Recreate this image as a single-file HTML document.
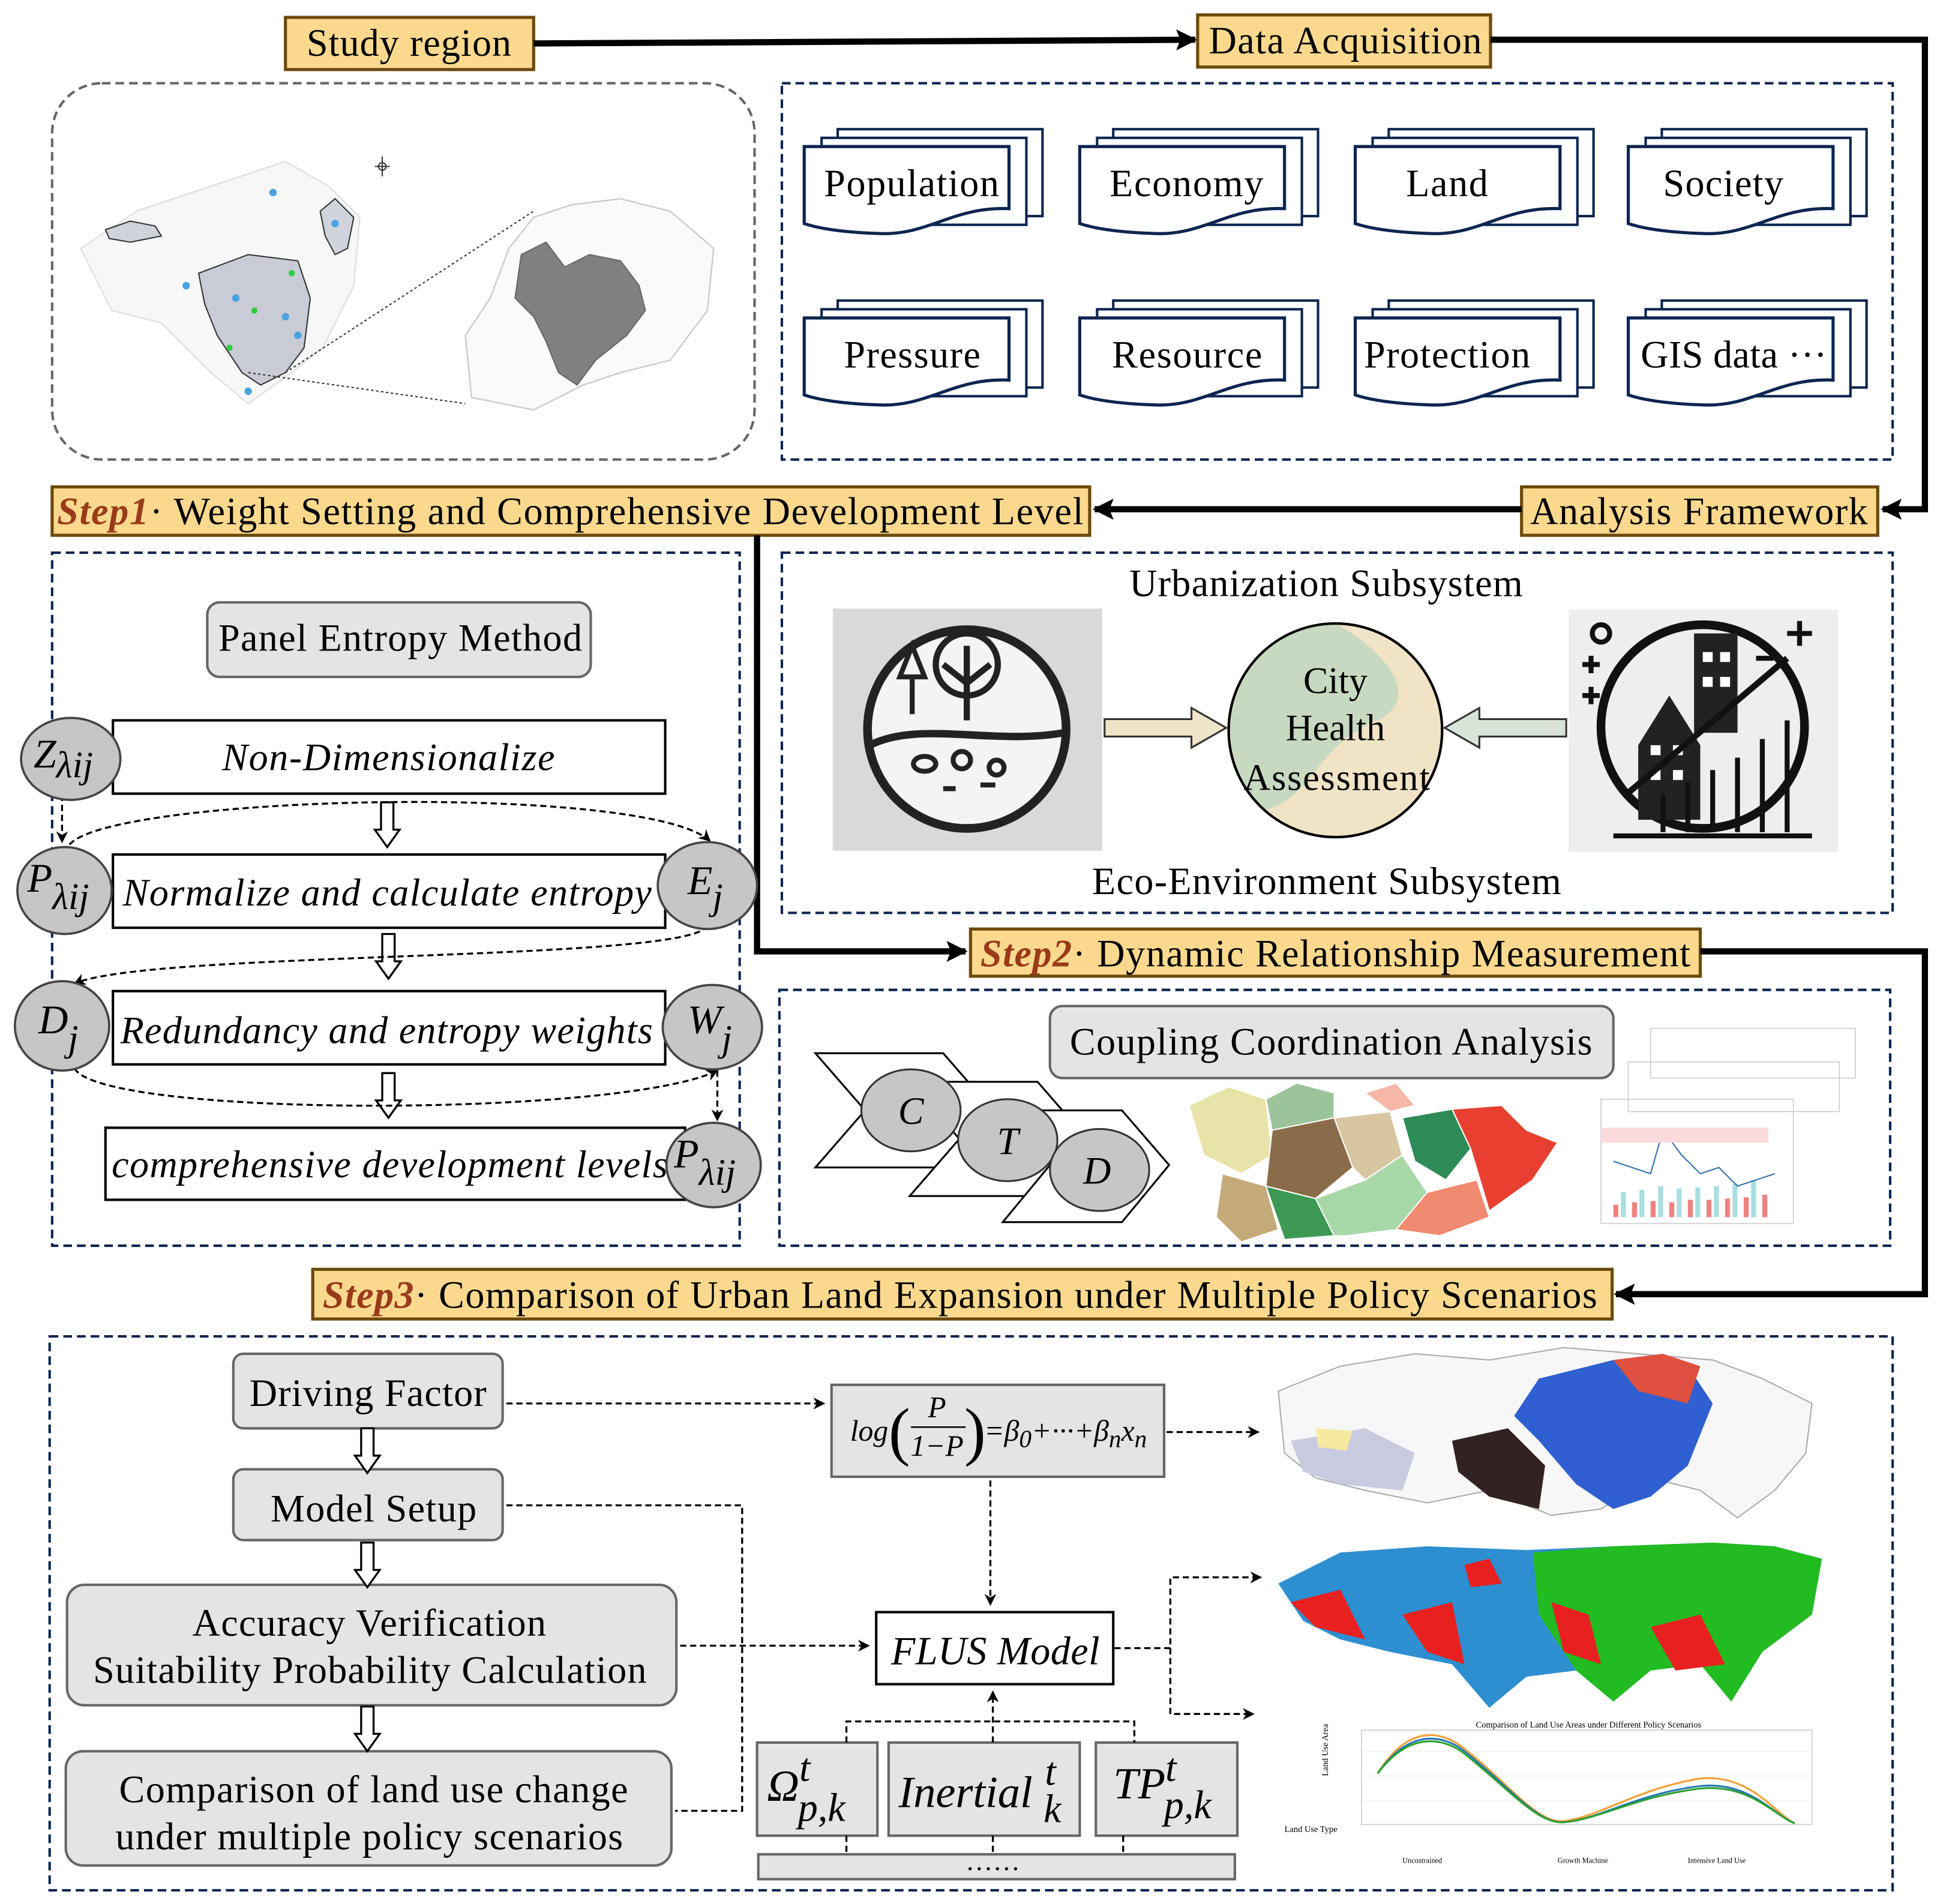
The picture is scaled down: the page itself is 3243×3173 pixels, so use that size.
<!DOCTYPE html>
<html><head><meta charset="utf-8"><style>
html,body{margin:0;padding:0;background:#fff;}
svg{display:block;}
text{font-family:"Liberation Serif",serif;fill:#000;}
</style></head><body>
<svg width="3243" height="3173" viewBox="0 0 1568 1533" preserveAspectRatio="none" xmlns="http://www.w3.org/2000/svg">
<defs>
<marker id="ah" viewBox="0 0 10 10" refX="9" refY="5" markerWidth="6" markerHeight="6" orient="auto-start-reverse"><path d="M0,0 L10,5 L0,10 L3,5 Z" fill="#000"/></marker>
<marker id="big" viewBox="0 0 10 10" refX="9" refY="5" markerWidth="3.4" markerHeight="3.4" orient="auto"><path d="M0,0 L10,5 L0,10 L2,5 Z" fill="#000"/></marker>
<g id="doc">
<rect x="27" y="-14" width="165" height="70" fill="#fff" stroke="#0d2550" stroke-width="2"/>
<rect x="14" y="-7" width="165" height="70" fill="#fff" stroke="#0d2550" stroke-width="2"/>
<path d="M0,0 H165 V50 C120,48 100,72 60,70 C30,69 12,66 0,62 Z" fill="#fff" stroke="#0d2550" stroke-width="2.5"/>
</g>
<g id="harrow"><path d="M-5,0 H5 V22 H10 L0,36 L-10,22 H-5 Z" fill="#fff" stroke="#000" stroke-width="1.6"/></g>
</defs>

<rect x="230" y="14" width="200" height="42" fill="#fad98e" stroke="#6b4a0c" stroke-width="2.5"/>
<text x="247" y="45" font-size="31" textLength="165">Study region</text>
<line x1="430" y1="35" x2="963" y2="32" stroke="#000" stroke-width="5" marker-end="url(#big)"/>
<rect x="965" y="12" width="236" height="42" fill="#fad98e" stroke="#6b4a0c" stroke-width="2.5"/>
<text x="974" y="43" font-size="31" textLength="220">Data Acquisition</text>
<polyline points="1201,32 1551,32 1551,410 1517,410" fill="none" stroke="#000" stroke-width="5" marker-end="url(#big)"/>

<rect x="42" y="67" width="566" height="303" rx="40" fill="none" stroke="#666" stroke-width="2" stroke-dasharray="7,4"/>
<g stroke="#ddd" fill="#f7f7f7" stroke-width="1">
<path d="M65,200 L110,170 L170,150 L230,130 L265,150 L290,175 L285,230 L260,280 L235,300 L200,325 L170,300 L130,260 L90,250 Z"/>
</g>
<g fill="#cfd3dc" stroke="#333" stroke-width="1">
<path d="M85,185 L105,178 L125,182 L130,190 L105,195 L88,192 Z"/>
<path d="M258,170 L270,160 L285,175 L280,200 L270,205 L262,190 Z"/>
<path d="M160,220 L200,205 L240,210 L250,240 L245,280 L230,300 L210,310 L195,300 L175,270 L165,245 Z" fill="#c9ccd6"/>
</g>
<g fill="#4aa3df"><circle cx="150" cy="230" r="3"/><circle cx="190" cy="240" r="3"/><circle cx="230" cy="255" r="3"/><circle cx="240" cy="270" r="3"/><circle cx="200" cy="315" r="3"/><circle cx="270" cy="180" r="3"/><circle cx="220" cy="155" r="3"/></g>
<g fill="#2ecc40"><circle cx="205" cy="250" r="2.5"/><circle cx="185" cy="280" r="2.5"/><circle cx="235" cy="220" r="2.5"/></g>
<path d="M200,300 L375,325" stroke="#333" stroke-width="1" stroke-dasharray="2,2"/>
<path d="M230,300 L430,170" stroke="#333" stroke-width="1" stroke-dasharray="2,2"/>
<path d="M380,320 L375,270 L395,240 L410,200 L430,175 L460,165 L500,160 L540,170 L575,200 L570,250 L540,290 L500,300 L470,310 L430,330 Z" fill="#fafafa" stroke="#ccc" stroke-width="1.2"/>
<path d="M420,205 L440,195 L455,215 L475,205 L500,210 L515,230 L520,250 L505,270 L480,290 L465,310 L450,300 L440,275 L430,255 L415,240 Z" fill="#808080" stroke="#666" stroke-width="1"/>
<g transform="translate(308,134)"><line x1="0" y1="-8" x2="0" y2="8" stroke="#333"/><line x1="-6" y1="0" x2="6" y2="0" stroke="#333"/><circle r="3" fill="none" stroke="#333"/></g>

<rect x="630" y="67" width="895" height="303" fill="none" stroke="#0d2550" stroke-width="2" stroke-dasharray="7,4"/>
<use href="#doc" x="648" y="118"/><use href="#doc" x="870" y="118"/><use href="#doc" x="1092" y="118"/><use href="#doc" x="1312" y="118"/>
<use href="#doc" x="648" y="256"/><use href="#doc" x="870" y="256"/><use href="#doc" x="1092" y="256"/><use href="#doc" x="1312" y="256"/>
<g font-size="31">
<text x="664" y="158" textLength="141">Population</text>
<text x="894" y="158" textLength="124">Economy</text>
<text x="1133" y="158" textLength="66">Land</text>
<text x="1340" y="158" textLength="97">Society</text>
<text x="680" y="296" textLength="110">Pressure</text>
<text x="896" y="296" textLength="121">Resource</text>
<text x="1099" y="296" textLength="134">Protection</text>
<text x="1322" y="296" textLength="150">GIS data ···</text>
</g>

<rect x="42" y="392" width="836" height="39" fill="#fad98e" stroke="#6b4a0c" stroke-width="2.5"/>
<text x="46" y="422" font-size="31" textLength="827"><tspan font-style="italic" font-weight="bold" style="fill:#9a3a1a">Step1</tspan>· Weight Setting and  Comprehensive Development Level</text>
<rect x="1226" y="392" width="287" height="39" fill="#fad98e" stroke="#6b4a0c" stroke-width="2.5"/>
<text x="1233" y="422" font-size="31" textLength="272">Analysis Framework</text>
<line x1="1226" y1="410" x2="882" y2="410" stroke="#000" stroke-width="5" marker-end="url(#big)"/>
<polyline points="610,431 610,766 778,766" fill="none" stroke="#000" stroke-width="5" marker-end="url(#big)"/>

<rect x="42" y="445" width="554" height="558" fill="none" stroke="#0d2550" stroke-width="2" stroke-dasharray="7,4"/>
<rect x="167" y="485" width="309" height="60" rx="10" fill="#e4e4e4" stroke="#666" stroke-width="2"/>
<text x="176" y="524" font-size="31" textLength="293">Panel Entropy Method</text>
<g fill="#fff" stroke="#000" stroke-width="2">
<rect x="91" y="580" width="445" height="59"/>
<rect x="91" y="688" width="445" height="59"/>
<rect x="91" y="798" width="445" height="59"/>
<rect x="85" y="908" width="467" height="58"/>
</g>
<g font-size="31" font-style="italic">
<text x="179" y="620" textLength="268">Non-Dimensionalize</text>
<text x="99" y="729" textLength="426">Normalize and calculate entropy</text>
<text x="97" y="840" textLength="429">Redundancy and entropy weights</text>
<text x="90" y="948" textLength="448">comprehensive development levels</text>
</g>
<use href="#harrow" x="312" y="646"/><use href="#harrow" x="313" y="752"/><use href="#harrow" x="313" y="864"/>
<g fill="none" stroke="#000" stroke-width="1.6" stroke-dasharray="5,3">
<path d="M50,640 V678" marker-end="url(#ah)"/>
<path d="M56,680 C90,640 520,630 572,677" marker-end="url(#ah)"/>
<path d="M570,745 C560,775 120,765 60,792" marker-end="url(#ah)"/>
<path d="M60,860 C80,900 500,900 578,862" marker-end="url(#ah)"/>
<path d="M578,862 V902" marker-end="url(#ah)"/>
</g>
<g fill="#c6c6c6" stroke="#444" stroke-width="1.8">
<ellipse cx="57" cy="611" rx="40" ry="33"/>
<ellipse cx="52" cy="717" rx="38" ry="35"/>
<ellipse cx="570" cy="713" rx="40" ry="35"/>
<ellipse cx="50" cy="826" rx="38" ry="36"/>
<ellipse cx="574" cy="827" rx="40" ry="34"/>
<ellipse cx="575" cy="938" rx="38" ry="34"/>
</g>
<g font-size="33" font-style="italic">
<text x="27" y="618">Z<tspan font-size="30" dy="8">λij</tspan></text>
<text x="22" y="718">P<tspan font-size="30" dy="14">λij</tspan></text>
<text x="554" y="720">E<tspan font-size="30" dy="12">j</tspan></text>
<text x="31" y="832">D<tspan font-size="30" dy="14">j</tspan></text>
<text x="554" y="832">W<tspan font-size="30" dy="14">j</tspan></text>
<text x="543" y="940">P<tspan font-size="30" dy="14">λij</tspan></text>
</g>

<rect x="630" y="445" width="895" height="290" fill="none" stroke="#0d2550" stroke-width="2" stroke-dasharray="7,4"/>
<text x="910" y="480" font-size="31" textLength="317">Urbanization Subsystem</text>
<text x="880" y="720" font-size="31" textLength="378">Eco-Environment Subsystem</text>
<rect x="671" y="490" width="217" height="195" fill="#d9d9d9"/>
<circle cx="779" cy="587" r="80" fill="#f4f4f4" stroke="#222" stroke-width="7"/>
<path d="M701,600 C740,580 800,600 857,590" fill="none" stroke="#222" stroke-width="6"/>
<path d="M779,520 v60 M760,535 l19,15 19,-15" stroke="#222" stroke-width="5" fill="none"/>
<circle cx="779" cy="535" r="25" fill="none" stroke="#222" stroke-width="5"/>
<path d="M725,545 l10,-25 10,25 z M735,545 v30" stroke="#222" stroke-width="4" fill="none"/>
<g fill="none" stroke="#222" stroke-width="4"><ellipse cx="745" cy="615" rx="9" ry="6"/><circle cx="775" cy="612" r="7"/><circle cx="803" cy="618" r="6"/><path d="M760,635 h10 M790,632 h12"/></g>
<rect x="1264" y="491" width="217" height="195" fill="#eeeeee"/>
<circle cx="1372" cy="585" r="82" fill="none" stroke="#111" stroke-width="7"/>
<path d="M1320,600 l25,-40 25,40 v60 h-50 z" fill="#222"/>
<rect x="1365" y="510" width="35" height="80" fill="#222"/>
<g fill="#fff"><rect x="1330" y="600" width="8" height="8"/><rect x="1348" y="600" width="8" height="8"/><rect x="1330" y="620" width="8" height="8"/><rect x="1348" y="620" width="8" height="8"/><rect x="1372" y="525" width="8" height="8"/><rect x="1386" y="525" width="8" height="8"/><rect x="1372" y="545" width="8" height="8"/><rect x="1386" y="545" width="8" height="8"/></g>
<g fill="none" stroke="#111" stroke-width="4"><path d="M1340,670 v-30 M1360,670 v-40 M1380,670 v-50 M1400,670 v-60 M1420,670 v-75 M1440,670 v-90"/><path d="M1310,640 L1440,530" stroke-width="5"/><path d="M1300,673 H1460"/><circle cx="1290" cy="510" r="7"/><path d="M1440,510 h20 M1450,500 v20 M1275,535 h14 M1282,528 v14 M1275,560 h14 M1282,553 v14 M1415,530 h14"/></g>
<circle cx="1076" cy="588" r="86" fill="#f1e3c6" stroke="#000" stroke-width="2"/>
<path d="M1076,502 A86,86 0 0 0 1020,652 C1060,640 1060,600 1110,580 C1150,560 1110,520 1076,502 Z" fill="#c7d9c0"/>
<circle cx="1076" cy="588" r="86" fill="none" stroke="#000" stroke-width="2"/>
<text x="1076" y="558" font-size="30" text-anchor="middle">City</text>
<text x="1076" y="596" font-size="30" text-anchor="middle">Health</text>
<text x="1002" y="636" font-size="30" textLength="150">Assessment</text>
<path d="M890,579 H960 V570 L988,586 L960,602 V593 H890 Z" fill="#efe4c8" stroke="#333" stroke-width="1.5"/>
<path d="M1262,579 H1192 V570 L1164,586 L1192,602 V593 H1262 Z" fill="#d8e4d8" stroke="#333" stroke-width="1.5"/>

<rect x="782" y="748" width="588" height="38" fill="#fad98e" stroke="#6b4a0c" stroke-width="2.5"/>
<text x="790" y="778" font-size="31" textLength="572"><tspan font-style="italic" font-weight="bold" style="fill:#9a3a1a">Step2</tspan>· Dynamic Relationship Measurement</text>
<polyline points="1370,766 1551,766 1551,1042 1302,1042" fill="none" stroke="#000" stroke-width="5" marker-end="url(#big)"/>
<rect x="628" y="797" width="895" height="206" fill="none" stroke="#0d2550" stroke-width="2" stroke-dasharray="7,4"/>
<rect x="846" y="810" width="454" height="58" rx="10" fill="#e4e4e4" stroke="#666" stroke-width="2"/>
<text x="862" y="849" font-size="31" textLength="421">Coupling Coordination Analysis</text>
<g fill="#fff" stroke="#000" stroke-width="1.5">
<path d="M657,848 H760 L800,894 L760,940 H657 L697,894 Z"/>
<path d="M733,871 H836 L876,917 L836,963 H733 L773,917 Z"/>
<path d="M808,894 H904 L942,938 L904,984 H808 L846,938 Z"/>
</g>
<g fill="#c6c6c6" stroke="#333" stroke-width="1.5"><ellipse cx="734" cy="894" rx="40" ry="33"/><ellipse cx="812" cy="918" rx="40" ry="33"/><ellipse cx="886" cy="942" rx="40" ry="33"/></g>
<g font-size="31" font-style="italic" text-anchor="middle"><text x="734" y="905">C</text><text x="812" y="929">T</text><text x="884" y="953">D</text></g>
<g stroke="#fff" stroke-width="1">
<path d="M958,890 L990,875 L1020,885 L1025,930 L1000,945 L970,930 Z" fill="#e8e3a8"/>
<path d="M1020,885 L1045,872 L1075,880 L1075,905 L1040,920 L1025,910 Z" fill="#9cc49a"/>
<path d="M1025,910 L1075,900 L1090,940 L1060,965 L1020,955 Z" fill="#8a6b4a"/>
<path d="M985,945 L1020,955 L1030,990 L1000,1000 L980,980 Z" fill="#c4aa78"/>
<path d="M1020,955 L1060,965 L1075,995 L1035,998 Z" fill="#3d9a55"/>
<path d="M1075,900 L1120,895 L1130,930 L1100,950 L1090,940 Z" fill="#d7c6a0"/>
<path d="M1100,950 L1130,930 L1150,960 L1125,990 L1085,995 L1075,995 L1060,965 Z" fill="#a9d8a8"/>
<path d="M1100,880 L1125,872 L1140,890 L1120,895 Z" fill="#f5b7a8"/>
<path d="M1130,900 L1170,893 L1185,925 L1165,950 L1140,935 Z" fill="#2e8b57"/>
<path d="M1150,960 L1190,950 L1200,980 L1160,995 L1125,990 Z" fill="#f08a70"/>
<path d="M1170,893 L1210,890 L1230,910 L1255,920 L1235,950 L1200,975 L1185,925 Z" fill="#e84030"/>
</g>
<g stroke="#ccc" stroke-width="0.8" fill="none">
<rect x="1330" y="828" width="165" height="40"/><rect x="1312" y="855" width="170" height="40"/><rect x="1290" y="885" width="155" height="100"/>
</g>
<g fill="#f08080"><rect x="1300" y="970" width="4" height="10"/><rect x="1315" y="968" width="4" height="12"/><rect x="1330" y="967" width="4" height="13"/><rect x="1345" y="968" width="4" height="12"/><rect x="1360" y="966" width="4" height="14"/><rect x="1375" y="966" width="4" height="14"/><rect x="1390" y="965" width="4" height="15"/><rect x="1405" y="964" width="4" height="16"/><rect x="1420" y="962" width="4" height="18"/></g>
<g fill="#a8dfe0"><rect x="1306" y="960" width="4" height="20"/><rect x="1321" y="958" width="4" height="22"/><rect x="1336" y="955" width="4" height="25"/><rect x="1351" y="957" width="4" height="23"/><rect x="1366" y="956" width="4" height="24"/><rect x="1381" y="955" width="4" height="25"/><rect x="1396" y="953" width="4" height="27"/><rect x="1411" y="950" width="4" height="30"/></g>
<polyline points="1300,935 1315,940 1330,945 1340,910 1355,930 1370,945 1385,940 1400,955 1415,950 1430,945" fill="none" stroke="#3070b0" stroke-width="1"/>
<rect x="1290" y="908" width="135" height="12" fill="#fbdada"/>

<rect x="252" y="1022" width="1047" height="40" fill="#fad98e" stroke="#6b4a0c" stroke-width="2.5"/>
<text x="260" y="1053" font-size="31" textLength="1027"><tspan font-style="italic" font-weight="bold" style="fill:#9a3a1a">Step3</tspan>· Comparison of Urban Land Expansion under Multiple Policy Scenarios</text>
<rect x="40" y="1076" width="1485" height="446" fill="none" stroke="#0d2550" stroke-width="2" stroke-dasharray="7,4"/>
<g fill="#e4e4e4" stroke="#666" stroke-width="2">
<rect x="188" y="1090" width="217" height="60" rx="8"/>
<rect x="188" y="1183" width="217" height="57" rx="8"/>
<rect x="54" y="1276" width="491" height="97" rx="14"/>
<rect x="53" y="1410" width="488" height="92" rx="14"/>
<rect x="670" y="1115" width="268" height="74"/>
<rect x="610" y="1403" width="97" height="75"/>
<rect x="716" y="1403" width="154" height="75"/>
<rect x="883" y="1403" width="114" height="75"/>
<rect x="611" y="1493" width="384" height="20"/>
</g>
<g font-size="31">
<text x="201" y="1132" textLength="191">Driving Factor</text>
<text x="218" y="1225" textLength="166">Model Setup</text>
<text x="155" y="1317" textLength="285">Accuracy Verification</text>
<text x="75" y="1355" textLength="446">Suitability Probability Calculation</text>
<text x="96" y="1451" textLength="410">Comparison of land use change</text>
<text x="93" y="1489" textLength="409">under multiple policy scenarios</text>
</g>
<use href="#harrow" x="296" y="1150"/><use href="#harrow" x="296" y="1242"/><use href="#harrow" x="296" y="1374"/>
<text x="685" y="1160" font-size="24" font-style="italic">log</text>
<text x="716" y="1170" font-size="52" font-weight="lighter">(</text>
<text x="755" y="1141" font-size="24" font-style="italic" text-anchor="middle">P</text>
<line x1="734" y1="1149" x2="778" y2="1149" stroke="#000" stroke-width="1.2"/>
<text x="755" y="1172" font-size="24" font-style="italic" text-anchor="middle">1−P</text>
<text x="777" y="1170" font-size="52">)</text>
<text x="793" y="1160" font-size="24" font-style="italic">=β<tspan font-size="20" dy="5">0</tspan><tspan dy="-5">+···+β</tspan><tspan font-size="20" dy="5">n</tspan><tspan dy="-5">x</tspan><tspan font-size="20" dy="5">n</tspan></text>
<rect x="706" y="1298" width="191" height="58" fill="#fff" stroke="#000" stroke-width="2"/>
<text x="718" y="1340" font-size="32" font-style="italic" textLength="168">FLUS Model</text>
<g font-size="36" font-style="italic">
<text x="618" y="1450">Ω<tspan font-size="32" dy="-16">t</tspan><tspan font-size="32" dx="-10" dy="32">p,k</tspan></text>
<text x="724" y="1455">Inertial<tspan font-size="32" dx="10" dy="-18">t</tspan><tspan font-size="32" dx="-10" dy="30">k</tspan></text>
<text x="897" y="1448">TP<tspan font-size="32" dy="-14">t</tspan><tspan font-size="32" dx="-10" dy="30">p,k</tspan></text>
</g>
<text x="800" y="1512" font-size="22" text-anchor="middle">······</text>
<g fill="none" stroke="#000" stroke-width="1.6" stroke-dasharray="5,3">
<path d="M408,1130 H664" marker-end="url(#ah)"/>
<path d="M940,1153 H1014" marker-end="url(#ah)"/>
<path d="M798,1192 V1292" marker-end="url(#ah)"/>
<path d="M548,1325 H700" marker-end="url(#ah)"/>
<path d="M408,1212 H598 V1458 H544"/>
<path d="M898,1327 H943 V1270 H1016" marker-end="url(#ah)"/>
<path d="M943,1327 V1380 H1010" marker-end="url(#ah)"/>
<path d="M682,1403 V1386 H914 V1403"/>
<path d="M800,1403 V1362" marker-end="url(#ah)"/>
<path d="M682,1478 V1493 M800,1478 V1493 M905,1478 V1493"/>
</g>
<path d="M1030,1120 L1080,1100 L1140,1090 L1200,1095 L1260,1085 L1320,1090 L1380,1095 L1420,1110 L1460,1130 L1455,1170 L1430,1200 L1400,1222 L1370,1200 L1330,1190 L1290,1215 L1250,1220 L1200,1200 L1150,1210 L1100,1200 L1060,1190 L1035,1170 Z" fill="#f7f7f7" stroke="#aaa" stroke-width="1"/>
<path d="M1240,1110 L1300,1095 L1360,1100 L1380,1130 L1360,1180 L1330,1205 L1300,1215 L1270,1195 L1240,1160 L1220,1140 Z" fill="#2f5fd0"/>
<path d="M1300,1095 L1340,1090 L1370,1100 L1360,1130 L1320,1120 Z" fill="#e05040"/>
<path d="M1170,1160 L1215,1150 L1245,1180 L1240,1215 L1200,1205 L1175,1185 Z" fill="#332222"/>
<path d="M1040,1160 L1100,1150 L1140,1170 L1130,1200 L1080,1195 L1050,1185 Z" fill="#c8cbe0"/>
<path d="M1060,1150 L1090,1152 L1085,1168 L1062,1165 Z" fill="#f5eaa0"/>
<path d="M1030,1275 L1080,1250 L1150,1245 L1230,1248 L1300,1245 L1380,1242 L1430,1245 L1468,1255 L1460,1300 L1420,1330 L1395,1370 L1370,1340 L1330,1345 L1300,1370 L1270,1345 L1230,1350 L1200,1375 L1170,1340 L1120,1330 L1080,1320 L1050,1305 Z" fill="#2d8fd0"/>
<path d="M1235,1250 L1300,1245 L1380,1242 L1430,1245 L1468,1255 L1460,1300 L1420,1330 L1395,1370 L1370,1340 L1330,1345 L1300,1370 L1270,1345 L1240,1300 Z" fill="#22bb22"/>
<g fill="#e82020"><path d="M1040,1290 L1080,1280 L1100,1320 L1060,1310 Z"/><path d="M1130,1300 L1170,1290 L1180,1340 L1150,1330 Z"/><path d="M1250,1290 L1280,1300 L1290,1340 L1260,1330 Z"/><path d="M1330,1310 L1370,1300 L1390,1340 L1350,1345 Z"/><path d="M1180,1260 L1200,1255 L1210,1275 L1185,1278 Z"/></g>
<text x="1280" y="1391" font-size="7" text-anchor="middle">Comparison of Land Use Areas under Different Policy Scenarios</text>
<rect x="1097" y="1393" width="363" height="76" fill="none" stroke="#ccc" stroke-width="0.8"/>
<g stroke="#eee" stroke-width="0.6"><line x1="1097" y1="1410" x2="1460" y2="1410"/><line x1="1097" y1="1430" x2="1460" y2="1430"/><line x1="1097" y1="1450" x2="1460" y2="1450"/></g>
<path d="M1110,1428 C1140,1380 1170,1400 1180,1408 C1220,1440 1240,1470 1262,1466 C1290,1462 1320,1440 1370,1432 C1410,1428 1430,1460 1446,1468" fill="none" stroke="#f39c30" stroke-width="1.5"/>
<path d="M1110,1428 C1140,1385 1170,1402 1180,1410 C1220,1442 1240,1470 1262,1467 C1290,1464 1320,1444 1370,1438 C1410,1434 1430,1462 1446,1468" fill="none" stroke="#1f77b4" stroke-width="1.5"/>
<path d="M1110,1428 C1140,1388 1170,1404 1180,1412 C1220,1444 1240,1470 1262,1467 C1290,1464 1320,1446 1370,1440 C1410,1436 1430,1462 1446,1468" fill="none" stroke="#2ca02c" stroke-width="1.5"/>
<text x="1070" y="1430" font-size="7" transform="rotate(-90 1070 1430)">Land Use Area</text>
<text x="1035" y="1475" font-size="7">Land Use Type</text>
<g font-size="6" fill="#333"><text x="1130" y="1500">Uncostrained</text><text x="1255" y="1500">Growth Machine</text><text x="1360" y="1500">Intensive Land Use</text></g>
</svg>
</body></html>
